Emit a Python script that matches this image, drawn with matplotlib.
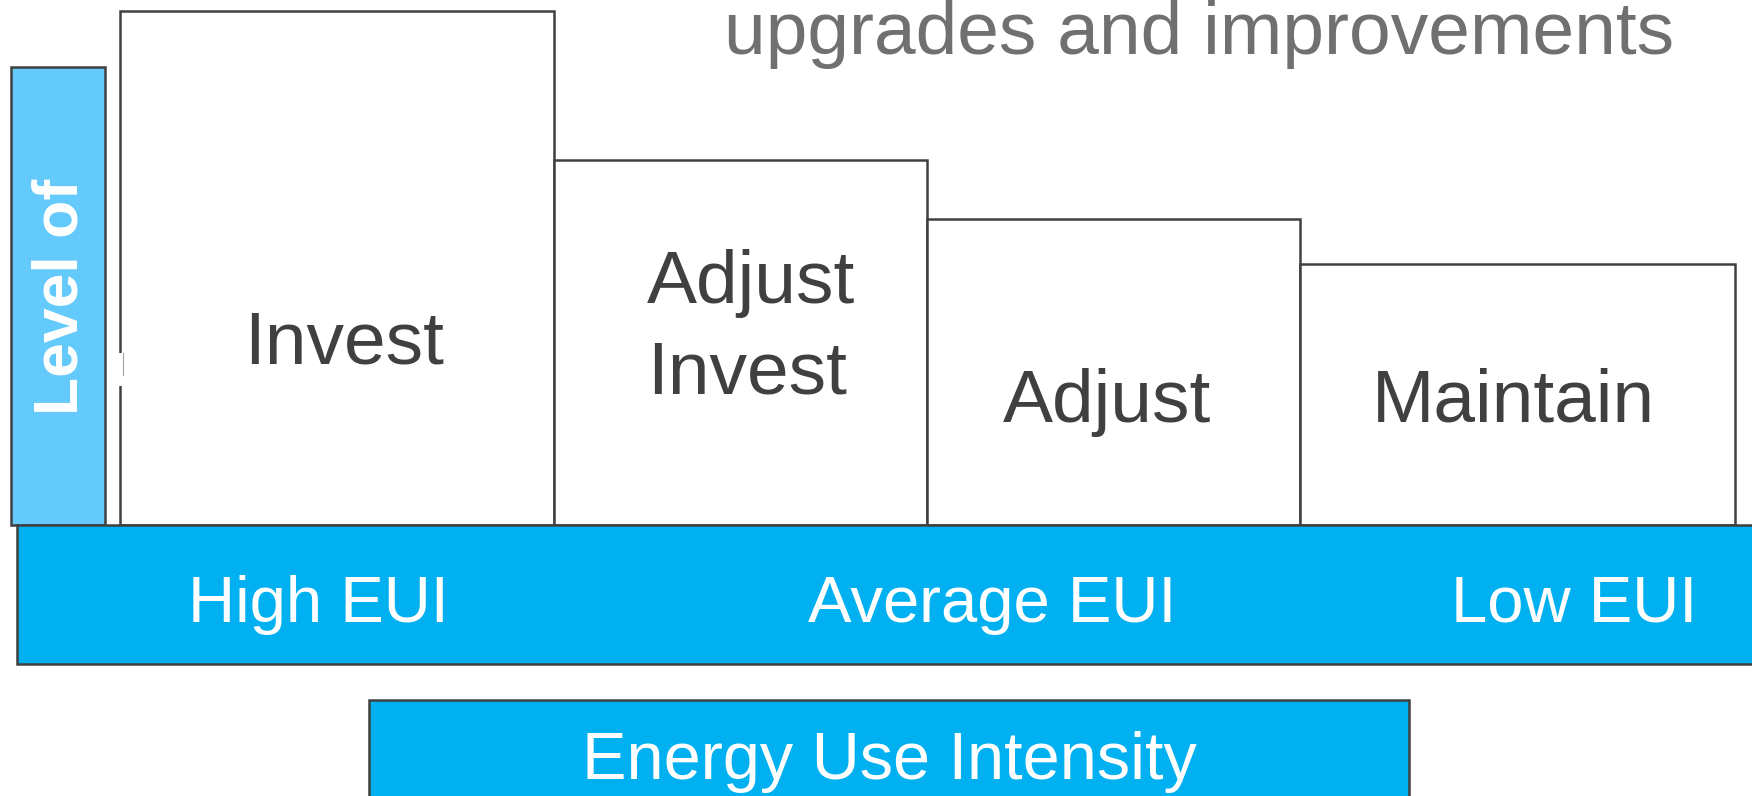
import matplotlib
matplotlib.use("Agg")
import matplotlib.pyplot as plt
from matplotlib.patches import Rectangle

plt.rcParams['font.family'] = ['Liberation Sans', 'DejaVu Sans']

# Steps: level of upgrades and improvements per EUI band
actions = ["Invest", "Adjust\nInvest", "Adjust", "Maintain"]
levels = [514, 365, 306, 261]
eui_labels = ["High EUI", "Average EUI", "Low EUI"]
axis_title = "Energy Use Intensity"
y_title_short = "Level of"
top_title = "upgrades and improvements"

edge = "#404040"
blue = "#00B0F0"
light_blue = "#63CAFB"
lw = 1.8

fig = plt.figure(figsize=(17.52, 7.96), dpi=100)
ax = fig.add_axes([0, 0, 1, 1])
ax.set_xlim(0, 1752)
ax.set_ylim(-271, 525)
ax.axis("off")

# step boxes
lefts = [120, 554, 927, 1300]
widths = [434, 373, 373, 435]
ax.bar(lefts, levels, width=widths, align="edge", bottom=0,
       facecolor="white", edgecolor=edge, linewidth=lw, zorder=2)

# small gap in the left border of the first box
ax.add_patch(Rectangle((116, 139), 8, 33, facecolor="white", edgecolor="none", zorder=3))
ax.plot([122.5, 122.5], [150, 172], color="#a0a0a0", lw=0.8, zorder=3)

# labels in the boxes (baselines)
for i, a in enumerate(actions):
    lines = a.split("\n")
    if len(lines) == 2:
        x0 = lefts[i] + 93
        for ln, yb in zip(lines, [222, 132]):
            ax.text(x0, yb, ln, ha="left", va="baseline", fontsize=54,
                    color="#404040", zorder=4)
    else:
        xc = [344, 0, 1107, 1513][i]
        yb = [162, 0, 103, 103][i]
        ax.text(xc, yb, a, ha="center", va="baseline", fontsize=54,
                color="#404040", zorder=4)

# "Level of" vertical box
ax.add_patch(Rectangle((11, 0), 94, 458, facecolor=light_blue, edgecolor=edge,
                       linewidth=lw, zorder=2))
ax.text(61, 228, y_title_short, rotation=90, ha="center", va="center",
        fontsize=45, fontweight="bold", color="white", zorder=4)

# EUI band
ax.add_patch(Rectangle((17, -139), 1760, 139, facecolor=blue, edgecolor=edge,
                       linewidth=lw, zorder=3))
for lab, x in zip(eui_labels, [318, 992, 1574]):
    ax.text(x, -97, lab, ha="center", va="baseline", fontsize=47, color="white", zorder=4)

# axis title box
ax.add_patch(Rectangle((369, -300), 1040, 125, facecolor=blue, edgecolor=edge,
                       linewidth=lw, zorder=3))
ax.text(889, -254, axis_title, ha="center", va="baseline", fontsize=48,
        color="white", zorder=4)

ax.text(1199, 471, top_title, ha="center", va="baseline", fontsize=54,
        color="#707070", zorder=4)

fig.savefig("out.png", dpi=100)
